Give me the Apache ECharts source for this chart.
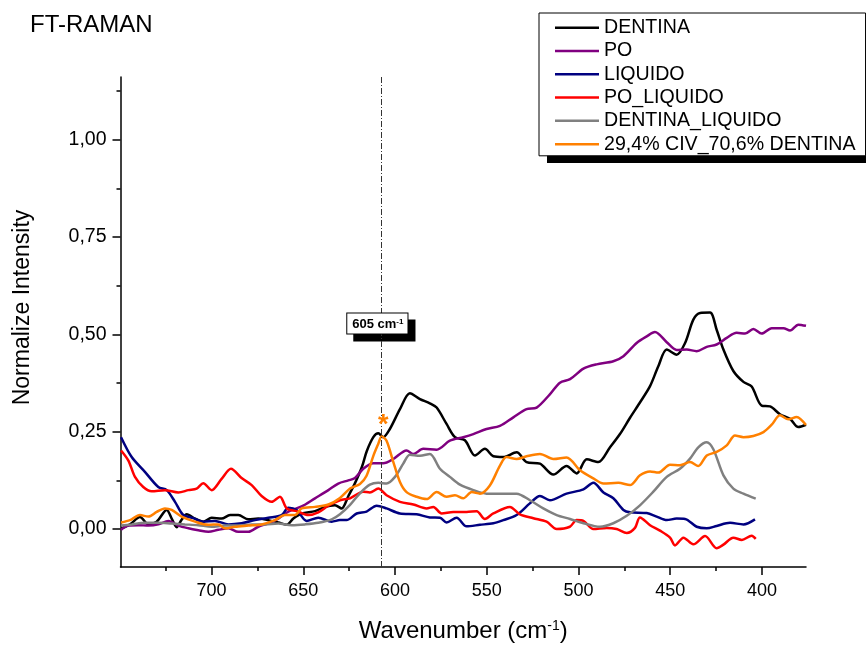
<!DOCTYPE html>
<html>
<head>
<meta charset="utf-8">
<script src="https://cdn.jsdelivr.net/npm/echarts@6/dist/echarts.min.js"></script>
<style>html,body{margin:0;padding:0;background:#fff}#c{width:866px;height:648px}</style>
</head>
<body>
<div id="c"></div>
<script>
const seriesNames = ['DENTINA', 'PO', 'LIQUIDO', 'PO_LIQUIDO', 'DENTINA_LIQUIDO', '29,4% CIV_70,6% DENTINA'];
const seriesColors = ['#000000', '#800080', '#000080', '#ff0000', '#808080', '#ff8000'];

const dentinaX = [749.0, 744.4, 739.0, 734.4, 729.9, 724.4, 721.7, 719.0, 716.3, 713.5, 709.0, 704.5, 699.9, 694.5, 689.9, 685.4, 679.9, 674.5, 669.0, 663.6, 659.0, 655.4, 650.9, 643.6, 638.2, 632.7, 629.1, 625.4, 621.8, 618.0, 615.4, 611.8, 609.1, 606.4, 602.8, 597.3, 591.9, 586.4, 581.0, 577.3, 571.9, 567.3, 561.9, 556.4, 551.0, 546.4, 541.0, 533.7, 528.3, 521.0, 513.7, 506.5, 501.0, 495.5, 489.2, 482.8, 477.4, 471.9, 466.5, 461.0, 456.5, 451.9, 446.5, 441.9, 437.4, 433.7, 428.3, 424.7, 421.0, 415.6, 410.1, 405.6, 400.2, 395.6, 390.2, 384.7, 380.2, 376.0];
const dentinaY = [0.002, 0.012, 0.031, 0.012, 0.019, 0.049, 0.027, 0.005, 0.024, 0.038, 0.027, 0.019, 0.029, 0.027, 0.036, 0.036, 0.025, 0.027, 0.023, 0.017, 0.011, 0.027, 0.040, 0.046, 0.057, 0.061, 0.053, 0.085, 0.118, 0.160, 0.200, 0.236, 0.246, 0.236, 0.257, 0.308, 0.349, 0.334, 0.323, 0.312, 0.270, 0.236, 0.228, 0.189, 0.206, 0.187, 0.185, 0.197, 0.172, 0.168, 0.140, 0.162, 0.143, 0.179, 0.172, 0.210, 0.244, 0.286, 0.325, 0.367, 0.418, 0.461, 0.448, 0.478, 0.538, 0.555, 0.556, 0.512, 0.461, 0.406, 0.378, 0.366, 0.317, 0.315, 0.295, 0.283, 0.262, 0.268];

const poX = [749.3, 745.3, 739.9, 734.4, 729.0, 723.5, 718.1, 712.6, 707.2, 701.7, 696.3, 690.8, 685.4, 679.9, 674.5, 669.0, 663.6, 658.1, 650.9, 643.6, 636.3, 630.9, 625.4, 621.8, 617.3, 611.8, 606.4, 600.9, 593.7, 590.0, 584.6, 577.3, 570.1, 562.8, 557.3, 550.1, 542.8, 535.5, 528.3, 522.8, 515.6, 510.1, 504.6, 497.3, 490.1, 481.0, 475.5, 468.3, 462.8, 458.3, 451.9, 446.5, 441.0, 435.6, 430.1, 424.7, 419.2, 413.8, 409.2, 404.7, 400.2, 394.7, 388.3, 384.7, 380.2, 376.0];
const poY = [-0.002, 0.009, 0.010, 0.009, 0.012, 0.021, 0.009, 0.002, -0.003, -0.007, -0.002, 0.002, -0.007, -0.007, 0.006, 0.015, 0.027, 0.045, 0.058, 0.079, 0.100, 0.117, 0.125, 0.131, 0.155, 0.169, 0.169, 0.180, 0.202, 0.193, 0.206, 0.204, 0.227, 0.236, 0.244, 0.257, 0.265, 0.287, 0.308, 0.312, 0.346, 0.376, 0.385, 0.412, 0.423, 0.431, 0.444, 0.478, 0.495, 0.506, 0.480, 0.460, 0.461, 0.457, 0.468, 0.474, 0.491, 0.504, 0.502, 0.514, 0.502, 0.516, 0.516, 0.510, 0.525, 0.522];

const liquidoX = [749.3, 743.5, 736.3, 729.0, 724.4, 719.9, 715.4, 709.9, 704.5, 698.1, 690.8, 683.6, 676.3, 669.0, 661.8, 658.1, 653.6, 648.1, 641.8, 634.5, 630.0, 626.4, 620.9, 615.5, 610.0, 604.6, 597.3, 588.2, 581.0, 575.5, 571.9, 566.4, 561.0, 553.7, 546.4, 541.0, 533.7, 526.5, 521.0, 515.6, 506.5, 497.3, 491.9, 486.4, 481.0, 475.5, 471.9, 462.8, 457.4, 451.9, 446.5, 441.9, 435.6, 430.1, 424.7, 417.4, 410.1, 403.8];
const liquidoY = [0.236, 0.185, 0.147, 0.108, 0.100, 0.070, 0.036, 0.028, 0.019, 0.021, 0.012, 0.015, 0.023, 0.029, 0.036, 0.055, 0.049, 0.021, 0.029, 0.019, 0.023, 0.023, 0.040, 0.045, 0.060, 0.053, 0.040, 0.038, 0.030, 0.029, 0.017, 0.029, 0.007, 0.011, 0.015, 0.023, 0.036, 0.066, 0.085, 0.074, 0.091, 0.102, 0.119, 0.094, 0.079, 0.049, 0.043, 0.041, 0.032, 0.023, 0.027, 0.026, 0.006, 0.002, 0.008, 0.016, 0.012, 0.025];

const poLiquidoX = [749.3, 745.3, 741.7, 737.2, 732.6, 725.4, 718.1, 712.6, 708.1, 704.5, 699.9, 694.5, 689.4, 683.6, 678.1, 672.7, 667.2, 662.7, 659.0, 653.6, 647.2, 641.8, 636.3, 630.0, 624.5, 617.3, 613.7, 609.1, 604.6, 597.3, 590.0, 582.8, 579.1, 574.6, 568.2, 561.0, 555.5, 551.0, 546.4, 537.4, 531.9, 524.6, 517.4, 511.9, 504.7, 501.0, 497.3, 491.9, 484.6, 479.2, 473.7, 469.2, 466.5, 461.0, 455.6, 450.1, 447.4, 442.8, 437.4, 431.0, 424.7, 421.0, 415.6, 411.0, 405.6, 403.4];
const poLiquidoY = [0.202, 0.176, 0.134, 0.108, 0.097, 0.100, 0.094, 0.100, 0.104, 0.118, 0.100, 0.129, 0.155, 0.131, 0.113, 0.085, 0.070, 0.083, 0.053, 0.046, 0.036, 0.043, 0.060, 0.074, 0.079, 0.096, 0.094, 0.104, 0.087, 0.070, 0.063, 0.053, 0.057, 0.040, 0.044, 0.044, 0.046, 0.026, 0.040, 0.057, 0.038, 0.028, 0.019, 0.000, 0.006, 0.023, 0.021, 0.000, 0.003, 0.000, -0.010, 0.003, 0.030, 0.010, -0.004, -0.022, -0.042, -0.022, -0.039, -0.018, -0.049, -0.040, -0.022, -0.028, -0.017, -0.025];

const dentinaLiquidoX = [749.3, 743.5, 736.3, 729.0, 721.7, 714.5, 707.2, 699.9, 692.7, 685.4, 678.1, 670.9, 663.6, 656.3, 649.1, 641.8, 634.5, 630.0, 624.5, 619.1, 613.7, 609.1, 604.6, 600.0, 595.5, 591.9, 586.4, 581.0, 575.5, 570.1, 564.6, 557.3, 550.1, 542.8, 533.7, 526.5, 519.2, 511.9, 504.6, 497.3, 488.3, 481.0, 473.7, 466.5, 459.2, 451.9, 444.7, 439.2, 434.7, 430.1, 426.5, 421.0, 415.6, 410.1, 403.4];
const dentinaLiquidoY = [0.009, 0.012, 0.016, 0.016, 0.014, 0.012, 0.010, 0.006, 0.009, 0.009, 0.012, 0.012, 0.014, 0.010, 0.012, 0.016, 0.025, 0.038, 0.062, 0.092, 0.114, 0.119, 0.117, 0.134, 0.168, 0.191, 0.188, 0.193, 0.155, 0.134, 0.114, 0.100, 0.091, 0.091, 0.091, 0.074, 0.053, 0.036, 0.026, 0.015, 0.006, 0.015, 0.034, 0.061, 0.096, 0.134, 0.155, 0.181, 0.210, 0.223, 0.205, 0.138, 0.104, 0.091, 0.078];

const civX = [749.3, 744.4, 739.0, 734.4, 729.9, 725.4, 721.7, 716.3, 709.0, 701.7, 696.3, 692.7, 687.2, 679.9, 672.7, 665.4, 660.0, 654.5, 650.9, 643.6, 636.3, 630.0, 624.5, 619.1, 615.5, 611.8, 609.1, 607.3, 604.6, 600.9, 597.3, 593.7, 588.2, 582.8, 577.3, 571.9, 567.3, 562.8, 558.2, 553.7, 548.3, 542.8, 539.2, 533.7, 528.3, 521.0, 513.7, 506.5, 499.1, 491.9, 486.4, 478.3, 471.9, 466.5, 461.0, 456.5, 450.1, 444.7, 439.2, 434.7, 430.1, 424.7, 419.2, 414.7, 410.1, 404.7, 399.2, 394.7, 390.2, 385.6, 381.1, 376.0];
const civY = [0.017, 0.023, 0.036, 0.032, 0.044, 0.053, 0.049, 0.032, 0.019, 0.011, 0.012, 0.002, 0.006, 0.009, 0.012, 0.023, 0.036, 0.036, 0.053, 0.057, 0.063, 0.080, 0.104, 0.116, 0.137, 0.188, 0.219, 0.238, 0.227, 0.172, 0.121, 0.095, 0.083, 0.077, 0.095, 0.083, 0.087, 0.079, 0.095, 0.091, 0.112, 0.163, 0.185, 0.180, 0.187, 0.193, 0.180, 0.184, 0.151, 0.130, 0.117, 0.119, 0.113, 0.138, 0.148, 0.145, 0.165, 0.164, 0.172, 0.162, 0.189, 0.198, 0.215, 0.240, 0.236, 0.239, 0.249, 0.268, 0.292, 0.282, 0.288, 0.267];

const xMajorTicks = [700, 650, 600, 550, 500, 450, 400];
const xMinorTicks = [725, 675, 625, 575, 525, 475, 425];
const yMajorTicks = [0, 0.25, 0.5, 0.75, 1.0];
const yMinorTicks = [0.125, 0.375, 0.625, 0.875, 1.125];
const xRange = [376.0, 749.6];
const yRange = [-0.0974, 1.161];
const peakLineX = 607.3;
const peakLabel = '605 cm';
const peakLabelPos = [609.6, 0.528];
const starPos = [606.4, 0.284];

const FONT = 'Liberation Sans, Arial, sans-serif';
const xs = [dentinaX, poX, liquidoX, poLiquidoX, dentinaLiquidoX, civX];
const ys = [dentinaY, poY, liquidoY, poLiquidoY, dentinaLiquidoY, civY];
const zip = (a, b) => a.map((v, i) => [v, b[i]]);

const lineSeries = seriesNames.map((n, i) => ({
  name: n, type: 'line', xAxisIndex: 0, yAxisIndex: 0,
  data: zip(xs[i], ys[i]),
  showSymbol: false, symbol: 'none', smooth: 0.3,
  color: seriesColors[i],
  lineStyle: { color: seriesColors[i], width: 2.5 },
  animation: false, silent: true
}));

lineSeries[0].markLine = {
  silent: true, symbol: ['none', 'none'], animation: false,
  label: { show: false },
  lineStyle: { color: '#333', width: 1, type: [6, 2, 1, 2] },
  data: [{ xAxis: peakLineX }]
};

const boxRich = (c) => ({
  a: { fontSize: 13, fontWeight: 'bold', fontFamily: FONT, color: c },
  s: { fontSize: 8, fontWeight: 'bold', fontFamily: FONT, color: c, verticalAlign: 'top' }
});
const hiddenItem = { color: 'rgba(0,0,0,0)', opacity: 1 };

const extraSeries = [
  {
    type: 'scatter', xAxisIndex: 0, yAxisIndex: 0, silent: true, animation: false, z: 4,
    data: [peakLabelPos], symbolSize: 1, itemStyle: hiddenItem,
    label: {
      show: true, position: 'inside', offset: [7, 7], opacity: 1,
      formatter: '{a|' + peakLabel + '}{s|-1}',
      backgroundColor: '#000', borderColor: '#000', borderWidth: 1,
      padding: [4, 4, 3, 5], rich: boxRich('#000')
    }
  },
  {
    type: 'scatter', xAxisIndex: 0, yAxisIndex: 0, silent: true, animation: false, z: 5,
    data: [peakLabelPos], symbolSize: 1, itemStyle: hiddenItem,
    label: {
      show: true, position: 'inside', opacity: 1,
      formatter: '{a|' + peakLabel + '}{s|-1}',
      backgroundColor: '#fff', borderColor: '#000', borderWidth: 1,
      padding: [4, 4, 3, 5], rich: boxRich('#000')
    }
  },
  {
    type: 'scatter', xAxisIndex: 0, yAxisIndex: 0, silent: true, animation: false, z: 5,
    data: [starPos], symbolSize: 1, itemStyle: hiddenItem,
    label: { show: true, position: 'inside', formatter: '*', color: '#ff8000', opacity: 1,
      fontSize: 27, fontWeight: 'bold', fontFamily: FONT, offset: [0, 7] }
  }
];

const chart = echarts.init(document.getElementById('c'), null, { renderer: 'canvas' });
chart.setOption({
  backgroundColor: '#fff',
  animation: false,
  title: {
    text: 'FT-RAMAN', left: 30, top: 13, padding: 0,
    textStyle: { fontSize: 24, fontWeight: 'normal', fontFamily: FONT, color: '#000' }
  },
  graphic: [
    { type: 'rect', left: 547, top: 20, z: -1, silent: true,
      shape: { width: 326, height: 143 }, style: { fill: '#000' } }
  ],
  legend: {
    data: seriesNames, orient: 'vertical', left: 539, top: 13, z: 10,
    padding: [3, 10, 0, 16], itemGap: 0, itemWidth: 44, itemHeight: 2.5, icon: 'rect',
    backgroundColor: '#fff', borderColor: '#000', borderWidth: 1,
    selectedMode: false,
    textStyle: { fontSize: 19.6, fontFamily: FONT, color: '#000', lineHeight: 23.3 }
  },
  grid: { left: 120.5, right: 60, top: 77, bottom: 79, containLabel: false },
  xAxis: [
    {
      type: 'value', inverse: true, min: xRange[0], max: xRange[1], position: 'bottom',
      axisLine: { show: true, onZero: false, lineStyle: { color: '#000', width: 1.5 } },
      axisTick: { show: true, length: 8, lineStyle: { color: '#000', width: 1.5 }, customValues: xMajorTicks },
      axisLabel: { customValues: xMajorTicks, margin: 15, color: '#000', fontSize: 18, fontFamily: FONT },
      splitLine: { show: false },
      name: '{a|Wavenumber (cm}{s|-1}{a|)}', nameLocation: 'middle', nameGap: 52,
      nameTextStyle: { rich: {
        a: { fontSize: 24, fontFamily: FONT, color: '#000' },
        s: { fontSize: 14, fontFamily: FONT, color: '#000', verticalAlign: 'top' }
      } }
    },
    {
      type: 'value', inverse: true, min: xRange[0], max: xRange[1], position: 'bottom', gridIndex: 0,
      axisLine: { show: false, onZero: false },
      axisTick: { show: true, length: 4, lineStyle: { color: '#000', width: 1.5 }, customValues: xMinorTicks },
      axisLabel: { show: false }, splitLine: { show: false }
    }
  ],
  yAxis: [
    {
      type: 'value', min: yRange[0], max: yRange[1], position: 'left',
      axisLine: { show: true, onZero: false, lineStyle: { color: '#000', width: 1.5 } },
      axisTick: { show: true, length: 8, lineStyle: { color: '#000', width: 1.5 }, customValues: yMajorTicks },
      axisLabel: { customValues: yMajorTicks, margin: 14, color: '#000', fontSize: 19.5, fontFamily: FONT,
        formatter: v => v.toFixed(2).replace('.', ',') },
      splitLine: { show: false },
      name: 'Normalize Intensity', nameLocation: 'middle', nameGap: 86,
      nameTextStyle: { fontSize: 23, fontFamily: FONT, color: '#000', padding: [0, 0, 0, 29] }
    },
    {
      type: 'value', min: yRange[0], max: yRange[1], position: 'left', gridIndex: 0,
      axisLine: { show: false, onZero: false },
      axisTick: { show: true, length: 4, lineStyle: { color: '#000', width: 1.5 }, customValues: yMinorTicks },
      axisLabel: { show: false }, splitLine: { show: false }
    }
  ],
  series: lineSeries.concat(extraSeries)
});
</script>
</body>
</html>
